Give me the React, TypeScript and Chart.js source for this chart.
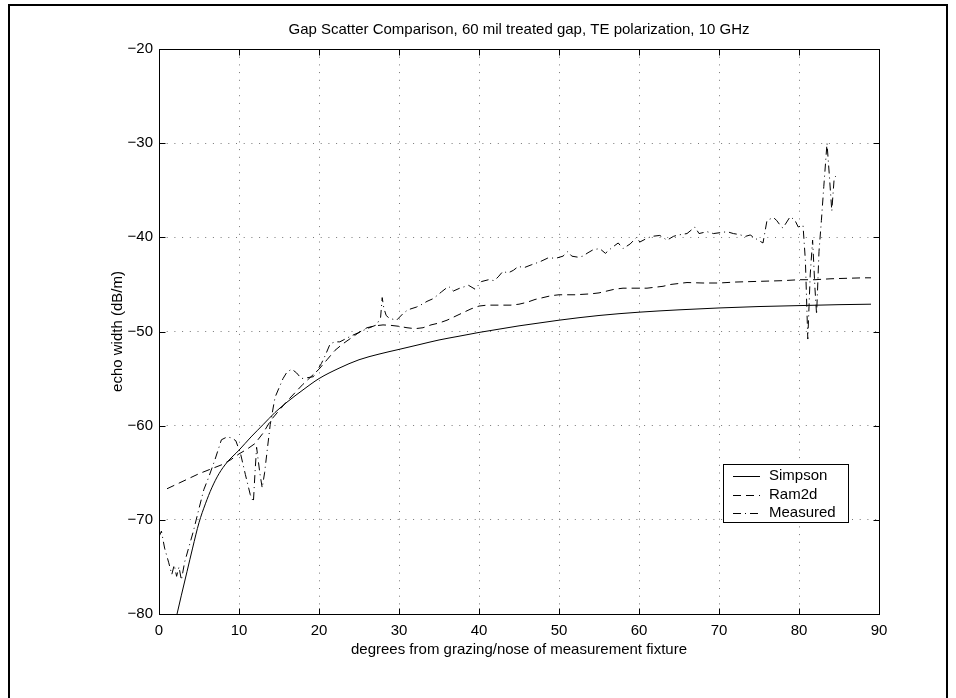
import React, { useEffect, useRef } from "react";
import { Chart, registerables } from "chart.js";

Chart.register(...registerables);

const TITLE = "Gap Scatter Comparison, 60 mil treated gap, TE polarization, 10 GHz";
const X_LABEL = "degrees from grazing/nose of measurement fixture";
const Y_LABEL = "echo width (dB/m)";
const FONT = '"Liberation Sans", Arial, Helvetica, sans-serif';
const FONT_SIZE = 15;

const X_MIN = 0;
const X_MAX = 90;
const X_STEP = 10;
const Y_MIN = -80;
const Y_MAX = -20;
const Y_STEP = 10;

// Simpson model (solid)
const simpsonDeg = [2.2, 2.8, 3.5, 4.2, 5.0, 5.8, 6.6, 7.5, 8.5, 10.0, 11.5, 13.0, 14.5, 16.0, 18.0, 20.0, 22.5, 25.0, 27.5, 30.0, 32.5, 35.0, 37.5, 40.0, 42.5, 45.0, 47.5, 50.0, 55.0, 60.0, 65.0, 70.0, 75.0, 80.0, 85.0, 89.0];
const simpsonDb = [-80.2, -78.0, -75.5, -73.0, -70.3, -68.3, -66.6, -65.1, -63.9, -62.6, -61.2, -59.9, -58.6, -57.5, -56.2, -55.0, -53.9, -53.0, -52.4, -51.9, -51.4, -50.9, -50.5, -50.1, -49.75, -49.4, -49.1, -48.8, -48.3, -47.95, -47.7, -47.5, -47.35, -47.25, -47.15, -47.1];

// Ram2d code (dashed)
const ram2dDeg = [1, 3, 5, 6.5, 8, 9, 10, 11, 12, 13, 14, 15, 16, 17, 18, 19, 20, 21, 22, 23, 24, 25, 26, 27, 28, 29, 30, 31, 32, 33, 34, 35, 36, 37, 38, 39, 40, 41, 42, 44, 45, 46, 47, 48, 49, 50, 52, 54, 55, 56, 57, 58, 60, 61, 62, 63, 64, 65, 66, 68, 70, 72, 74, 76, 78, 80, 82, 84, 86, 88, 89];
const ram2dDb = [-66.7, -65.9, -65.1, -64.6, -64.1, -63.6, -63.0, -62.5, -61.9, -60.8, -59.4, -58.4, -57.4, -56.5, -55.6, -54.8, -54.0, -53.0, -52.0, -51.3, -50.7, -50.1, -49.6, -49.4, -49.3, -49.35, -49.45, -49.6, -49.7, -49.6, -49.3, -49.1, -48.8, -48.4, -48.0, -47.6, -47.3, -47.2, -47.2, -47.2, -47.1, -46.9, -46.6, -46.4, -46.2, -46.1, -46.1, -46.0, -45.9, -45.7, -45.5, -45.4, -45.4, -45.4, -45.3, -45.2, -45.0, -44.9, -44.8, -44.85, -44.85, -44.75, -44.7, -44.65, -44.6, -44.5, -44.5, -44.4, -44.35, -44.3, -44.3];

// Measured data (dash-dot)
const measuredDeg = [0.0, 0.3, 0.7, 1.2, 1.6, 1.9, 2.2, 2.5, 2.8, 3.2, 3.7, 4.3, 5.0, 5.6, 6.2, 7.0, 7.8, 8.5, 9.1, 9.6, 10.2, 10.8, 11.4, 11.8, 12.0, 12.2, 12.6, 12.9, 13.2, 13.5, 13.9, 14.5, 15.0, 15.5, 16.0, 16.6, 17.2, 17.8, 18.6, 19.3, 20.3, 20.8, 21.4, 22.0, 22.6, 23.5, 24.2, 25.0, 26.0, 27.2, 27.7, 27.9, 28.1, 28.4, 28.8, 29.7, 30.5, 31.1, 32.2, 32.9, 33.5, 34.3, 35.3, 36.2, 36.8, 37.6, 38.7, 39.5, 40.3, 41.2, 41.9, 42.4, 43.0, 43.6, 44.3, 44.9, 45.7, 46.6, 47.6, 48.6, 49.7, 50.5, 51.1, 51.6, 52.3, 53.0, 53.5, 54.3, 55.1, 55.8, 56.6, 57.4, 58.0, 58.9, 59.7, 60.1, 61.0, 61.6, 62.6, 63.5, 64.3, 64.9, 66.0, 67.0, 67.5, 68.5, 69.3, 70.2, 71.0, 71.8, 72.5, 73.3, 73.9, 74.9, 75.5, 76.0, 76.8, 77.2, 77.8, 78.0, 78.9, 79.5, 79.9, 80.5, 80.8, 81.1, 81.4, 81.7, 82.0, 82.2, 82.5, 82.8, 83.1, 83.5, 83.8, 84.1, 84.4, 84.6];
const measuredDb = [-71.8, -71.2, -73.0, -74.5, -75.8, -74.8, -76.0, -75.0, -76.4, -74.5, -73.0, -71.2, -68.8, -66.8, -65.5, -63.6, -61.5, -61.2, -61.3, -61.6, -63.0, -65.2, -67.3, -68.1, -65.0, -62.3, -65.0, -66.6, -65.0, -62.8, -59.9, -57.0, -56.0, -55.0, -54.3, -54.0, -54.4, -55.0, -54.9, -54.8, -53.4, -52.5, -51.3, -51.1, -51.1, -50.7, -50.4, -50.1, -49.7, -49.3, -48.5, -46.4, -47.5, -48.3, -48.6, -48.8, -48.1, -47.7, -47.4, -47.1, -46.8, -46.5, -45.8, -45.2, -45.7, -45.4, -45.1, -45.5, -44.7, -44.5, -44.6, -44.2, -43.6, -43.8, -43.5, -43.1, -43.2, -42.9, -42.6, -42.2, -42.2, -42.0, -41.5, -42.0, -42.1, -42.0, -41.7, -41.3, -41.2, -41.7, -41.1, -40.6, -41.2, -40.7, -40.0, -40.5, -40.1, -39.9, -39.8, -40.3, -39.9, -39.75, -39.6, -38.9, -39.6, -39.4, -39.6, -39.5, -39.4, -39.6, -39.7, -39.9, -39.75, -40.3, -40.6, -38.2, -37.9, -38.2, -38.9, -39.0, -37.8, -38.2, -38.9, -38.7, -42.5, -50.8, -44.0, -40.3, -45.5, -48.2, -41.5, -38.2, -34.6, -30.0, -33.5, -37.2, -33.7, -33.5];

const SERIES_NAMES = ["Simpson", "Ram2d", "Measured"];
const SERIES_DASH: number[][] = [[], [8, 5], [8, 4, 1, 4]];

const toPoints = (xs: number[], ys: number[]) => xs.map((x, i) => ({ x, y: ys[i] }));
const minus = (v: number | string) => String(v).replace("-", "\u2212");

const figurePlugin = {
  id: "figureDecor",
  beforeDraw(chart: any) {
    const { ctx, width, height } = chart;
    ctx.save();
    ctx.fillStyle = "#fff";
    ctx.fillRect(0, 0, width, height);
    ctx.restore();
  },
  afterDraw(chart: any) {
    const { ctx, chartArea: a, scales } = chart;
    const xs = scales.x;
    const ys = scales.y;
    ctx.save();
    ctx.strokeStyle = "#000";
    ctx.lineWidth = 1;
    ctx.setLineDash([]);

    // axes box
    const L = Math.round(a.left) + 0.5;
    const R = Math.round(a.right) + 0.5;
    const T = Math.round(a.top) + 0.5;
    const B = Math.round(a.bottom) + 0.5;
    ctx.strokeRect(L, T, R - L, B - T);

    // inward tick marks on all four sides
    const tl = 6;
    ctx.beginPath();
    xs.ticks.forEach((t: any) => {
      const px = Math.round(xs.getPixelForValue(t.value)) + 0.5;
      ctx.moveTo(px, B);
      ctx.lineTo(px, B - tl);
      ctx.moveTo(px, T);
      ctx.lineTo(px, T + tl);
    });
    ys.ticks.forEach((t: any) => {
      const py = Math.round(ys.getPixelForValue(t.value)) + 0.5;
      ctx.moveTo(L, py);
      ctx.lineTo(L + tl, py);
      ctx.moveTo(R, py);
      ctx.lineTo(R - tl, py);
    });
    ctx.stroke();

    // title
    ctx.fillStyle = "#000";
    ctx.font = `${FONT_SIZE}px ${FONT}`;
    ctx.textAlign = "center";
    ctx.textBaseline = "middle";
    ctx.fillText(TITLE, (a.left + a.right) / 2, 30);

    // legend
    const lx = 723, ly = 464, lw = 125, lh = 58;
    ctx.fillStyle = "#fff";
    ctx.fillRect(lx, ly, lw, lh);
    ctx.strokeRect(lx + 0.5, ly + 0.5, lw, lh);
    ctx.textAlign = "left";
    chart.data.datasets.forEach((ds: any, i: number) => {
      const y = ly + 12 + i * 18.5;
      ctx.beginPath();
      ctx.setLineDash(ds.borderDash || []);
      ctx.lineWidth = 1;
      ctx.strokeStyle = "#000";
      ctx.moveTo(733, Math.round(y) + 0.5);
      ctx.lineTo(760, Math.round(y) + 0.5);
      ctx.stroke();
      ctx.setLineDash([]);
      ctx.fillStyle = "#000";
      ctx.fillText(ds.label, 769, y);
    });

    // outer figure frame
    ctx.lineWidth = 2;
    ctx.strokeStyle = "#000";
    ctx.strokeRect(9, 5, 938, 720);
    ctx.restore();
  },
};

export default function App() {
  const canvasRef = useRef<HTMLCanvasElement | null>(null);

  useEffect(() => {
    const canvas = canvasRef.current;
    if (!canvas) return;
    const series = [
      toPoints(simpsonDeg, simpsonDb),
      toPoints(ram2dDeg, ram2dDb),
      toPoints(measuredDeg, measuredDb),
    ];
    const chart = new Chart(canvas, {
      type: "line",
      data: {
        datasets: series.map((pts, i) => ({
          label: SERIES_NAMES[i],
          data: pts,
          borderColor: "#000",
          backgroundColor: "#000",
          borderWidth: 1,
          borderDash: SERIES_DASH[i],
          pointRadius: 0,
          fill: false,
          tension: 0,
          cubicInterpolationMode: i === 0 ? "monotone" : "default",
        })),
      },
      options: {
        animation: false,
        responsive: false,
        devicePixelRatio: 1,
        layout: { padding: { left: 0, top: 49, right: 77, bottom: 0 } },
        plugins: {
          legend: { display: false },
          title: { display: false },
          tooltip: { enabled: false },
        },
        scales: {
          x: {
            type: "linear",
            min: X_MIN,
            max: X_MAX,
            afterFit: (s: any) => {
              s.height = 84;
            },
            ticks: {
              stepSize: X_STEP,
              padding: 8,
              color: "#000",
              font: { family: FONT, size: FONT_SIZE },
              callback: (v: any) => minus(v),
            },
            grid: { color: "#777", lineWidth: 1, drawTicks: false },
            border: { display: false, dash: [1, 6.7] },
            title: {
              display: true,
              text: X_LABEL,
              color: "#000",
              font: { family: FONT, size: FONT_SIZE },
              padding: { top: 0, bottom: 39 },
            },
          },
          y: {
            type: "linear",
            min: Y_MIN,
            max: Y_MAX,
            afterFit: (s: any) => {
              s.width = 159;
            },
            ticks: {
              stepSize: Y_STEP,
              padding: 6,
              color: "#000",
              font: { family: FONT, size: FONT_SIZE },
              callback: (v: any) => minus(v),
            },
            grid: { color: "#777", lineWidth: 1, drawTicks: false },
            border: { display: false, dash: [1, 6.7] },
            title: {
              display: true,
              text: Y_LABEL,
              color: "#000",
              font: { family: FONT, size: FONT_SIZE },
              padding: { top: 109, bottom: 0 },
            },
          },
        },
      },
      plugins: [figurePlugin],
    });
    return () => chart.destroy();
  }, []);

  return (
    <div style={{ position: "fixed", left: 0, top: 0, width: 956, height: 698, background: "#fff" }}>
      <canvas ref={canvasRef} width={956} height={698} style={{ display: "block" }} />
    </div>
  );
}
